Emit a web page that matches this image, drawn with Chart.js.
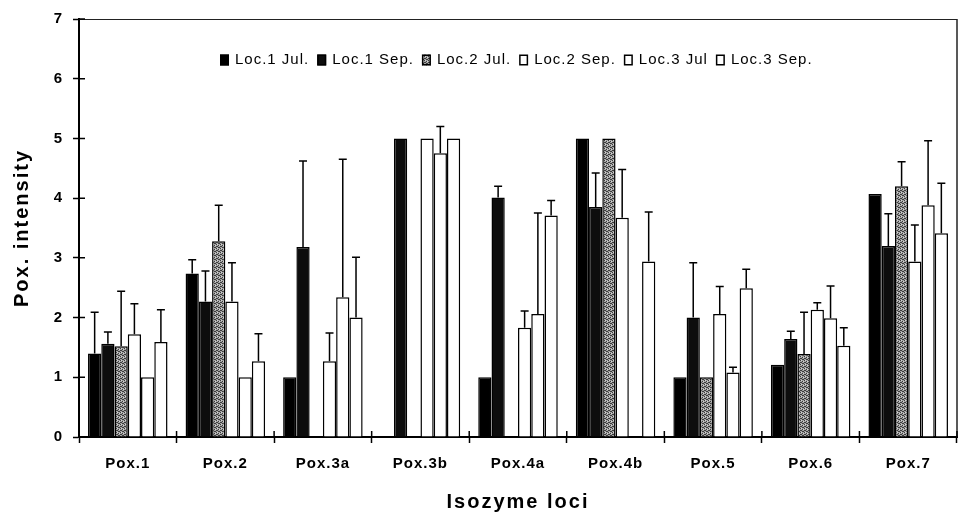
<!DOCTYPE html>
<html>
<head>
<meta charset="utf-8">
<script src="https://cdn.jsdelivr.net/npm/chart.js@4.4.0/dist/chart.umd.min.js"></script>
<style>
  html, body { margin: 0; padding: 0; background: #fff; }
  #wrap { width: 961px; height: 516px; position: relative; }
</style>
</head>
<body>
<div id="wrap"><canvas id="poxChart"></canvas></div>
<script>
// categories and series
var loci = ["Pox.1", "Pox.2", "Pox.3a", "Pox.3b", "Pox.4a", "Pox.4b", "Pox.5", "Pox.6", "Pox.7"];
var seriesNames = ["Loc.1 Jul.", "Loc.1 Sep.", "Loc.2 Jul.", "Loc.2 Sep.", "Loc.3 Jul", "Loc.3 Sep."];

var loc1Jul = [1.4, 2.74, 1.0, null, 1.0, 5.0, 1.0, 1.21, 4.07];
var loc1Sep = [1.56, 2.27, 3.18, 5.0, 4.01, 3.85, 2.0, 1.64, 3.2];
var loc2Jul = [1.52, 3.28, null, null, null, 5.0, 1.0, 1.39, 4.2];
var loc2Sep = [1.72, 2.27, 1.27, 5.0, 1.83, 3.67, 2.06, 2.13, 2.94];
var loc3Jul = [1.0, 1.0, 2.34, 4.75, 2.06, null, 1.08, 1.99, 3.88];
var loc3Sep = [1.59, 1.27, 2.0, 5.0, 3.71, 2.94, 2.49, 1.53, 3.41];

// upper error bar lengths (SD)
var loc1JulSd = [0.69, 0.23, 0, 0, 0, 0, 0, 0, 0];
var loc1SepSd = [0.2, 0.51, 1.44, 0, 0.19, 0.57, 0.92, 0.13, 0.54];
var loc2JulSd = [0.92, 0.6, 0, 0, 0, 0, 0, 0.7, 0.41];
var loc2SepSd = [0.51, 0.65, 0.47, 0, 0.28, 0.81, 0.46, 0.12, 0.61];
var loc3JulSd = [0, 0, 2.31, 0.45, 1.69, 0, 0.09, 0.54, 1.08];
var loc3SepSd = [0.54, 0.46, 1.01, 0, 0.25, 0.83, 0.32, 0.3, 0.84];

var yTicks = [0, 1, 2, 3, 4, 5, 6, 7];

var errSets = [loc1JulSd, loc1SepSd, loc2JulSd, loc2SepSd, loc3JulSd, loc3SepSd];
var FONT = '"Liberation Sans", Arial, sans-serif';

// speckled grey fill for Loc.2 Jul.
function makeSpeckle() {
    var c = document.createElement('canvas');
    c.width = 4; c.height = 4;
    var g = c.getContext('2d');
    g.fillStyle = '#a4a4a4';
    g.fillRect(0, 0, 4, 4);
    g.fillStyle = '#3c3c3c';
    g.fillRect(0, 0, 1, 1); g.fillRect(2, 1, 1, 1);
    g.fillRect(1, 2, 1, 1); g.fillRect(3, 3, 1, 1);
    g.fillRect(2, 3, 1, 1); g.fillRect(0, 2, 1, 1);
    g.fillStyle = '#d0d0d0';
    g.fillRect(1, 0, 1, 1); g.fillRect(3, 1, 1, 1);
    return g.createPattern(c, 'repeat');
}
var speckle = makeSpeckle();

var fills = ['#000000', '#0d0d0d', speckle, '#ffffff', '#ffffff', '#ffffff'];
var allValues = [loc1Jul, loc1Sep, loc2Jul, loc2Sep, loc3Jul, loc3Sep];

var datasets = allValues.map(function(vals, i) {
    return {
        label: seriesNames[i],
        data: vals,
        backgroundColor: fills[i],
        borderColor: '#000',
        borderWidth: 1.5,
        borderSkipped: 'start',
        categoryPercentage: 0.815,
        barPercentage: 1.0
    };
});

var framePlugin = {
    id: 'framePlugin',
    beforeDraw: function(chart) {
        chart.ctx.letterSpacing = '1px';
        ['x', 'y'].forEach(function(id) {
            var s = chart.scales[id];
            if (s && !s._wrappedTitle) {
                var orig = s.drawTitle;
                s.drawTitle = function() {
                    var c = this.ctx;
                    var old = c.letterSpacing;
                    c.letterSpacing = '2px';
                    orig.apply(this, arguments);
                    c.letterSpacing = old;
                };
                s._wrappedTitle = true;
            }
        });
    },
    afterDatasetsDraw: function(chart) {
        var ctx = chart.ctx;
        var y = chart.scales.y;
        ctx.save();
        ctx.strokeStyle = '#000';
        ctx.lineWidth = 1.5;
        chart.data.datasets.forEach(function(ds, i) {
            var meta = chart.getDatasetMeta(i);
            meta.data.forEach(function(bar, j) {
                var v = ds.data[j];
                var sd = errSets[i][j];
                if (v == null || !sd) return;
                var top = y.getPixelForValue(v + sd);
                ctx.beginPath();
                ctx.moveTo(bar.x, bar.y);
                ctx.lineTo(bar.x, top);
                ctx.moveTo(bar.x - 4, top);
                ctx.lineTo(bar.x + 4, top);
                ctx.stroke();
            });
        });
        ctx.restore();
    },
    afterDraw: function(chart) {
        var ctx = chart.ctx;
        var a = chart.chartArea;
        var xs = chart.scales.x, ys = chart.scales.y;
        ctx.save();
        // top and right frame
        ctx.strokeStyle = '#222';
        ctx.lineWidth = 1;
        ctx.beginPath();
        ctx.moveTo(a.left, a.top + 0.5);
        ctx.lineTo(a.right, a.top + 0.5);
        ctx.stroke();
        ctx.lineWidth = 1.5;
        ctx.beginPath();
        ctx.moveTo(a.right, a.top);
        ctx.lineTo(a.right, a.bottom);
        ctx.stroke();
        // inner halves of the tick marks
        ctx.strokeStyle = '#000';
        ctx.lineWidth = 1.5;
        ctx.beginPath();
        yTicks.forEach(function(v) {
            var py = ys.getPixelForValue(v);
            ctx.moveTo(a.left, py);
            ctx.lineTo(a.left + 6, py);
        });
        for (var i = 1; i <= loci.length; i++) {
            var px = xs.getPixelForValue(i - 0.5);
            ctx.moveTo(px, a.bottom);
            ctx.lineTo(px, a.bottom - 6);
        }
        ctx.stroke();

        // legend inside the plot
        ctx.font = '15px ' + FONT;
        ctx.letterSpacing = '1px';
        ctx.textBaseline = 'middle';
        ctx.textAlign = 'left';
        var lx = a.left + 141, ly = 60;
        chart.data.datasets.forEach(function(ds) {
            ctx.fillStyle = ds.backgroundColor;
            ctx.fillRect(lx, ly - 5.5, 9, 11);
            ctx.strokeStyle = '#000';
            ctx.lineWidth = 1.5;
            ctx.strokeRect(lx + 0.75, ly - 4.75, 7.5, 9.5);
            ctx.fillStyle = '#000';
            ctx.fillText(ds.label, lx + 15, ly);
            lx += 15 + ctx.measureText(ds.label).width + 8;
        });
        ctx.restore();
    }
};

new Chart(document.getElementById('poxChart'), {
    type: 'bar',
    data: { labels: loci, datasets: datasets },
    plugins: [framePlugin],
    options: {
        responsive: true,
        maintainAspectRatio: false,
        animation: false,
        layout: { padding: { top: 12, right: 4, left: 0, bottom: 0 } },
        plugins: {
            legend: { display: false },
            tooltip: { enabled: false }
        },
        scales: {
            x: {
                grid: {
                    display: true,
                    drawOnChartArea: false,
                    tickLength: 6,
                    tickWidth: 1.5,
                    tickColor: '#000'
                },
                border: { display: true, color: '#000', width: 2 },
                ticks: {
                    color: '#000',
                    font: { family: FONT, size: 15, weight: 'bold' },
                    padding: 12,
                    maxRotation: 0,
                    autoSkip: false
                },
                title: {
                    display: true,
                    text: 'Isozyme loci',
                    color: '#000',
                    font: { family: FONT, size: 20, weight: 'bold' },
                    padding: { top: 0, bottom: 2 }
                },
                afterFit: function(s) { s.height = 79; }
            },
            y: {
                min: 0,
                max: 7,
                grid: {
                    display: true,
                    drawOnChartArea: false,
                    tickLength: 6,
                    tickWidth: 1.5,
                    tickColor: '#000'
                },
                border: { display: true, color: '#000', width: 2 },
                ticks: {
                    stepSize: 1,
                    color: '#000',
                    font: { family: FONT, size: 15, weight: 'bold' },
                    padding: 10
                },
                title: {
                    display: true,
                    text: 'Pox. intensity',
                    color: '#000',
                    font: { family: FONT, size: 20, weight: 'bold' },
                    padding: { top: 10, bottom: 0 }
                },
                afterFit: function(s) { s.width = 79; }
            }
        }
    }
});
</script>
</body>
</html>
